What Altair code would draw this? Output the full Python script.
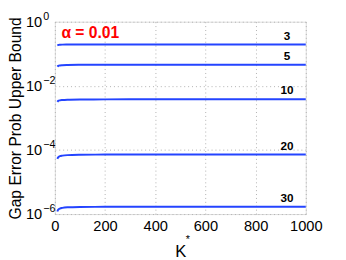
import altair as alt
import pandas as pd

K = [10, 12, 15, 20, 30, 50, 100, 200, 400, 700, 1000]
s3 = [0.182, 0.186, 0.189, 0.191, 0.193, 0.194, 0.195, 0.195, 0.195, 0.195, 0.195]
s5 = [0.0398, 0.0412, 0.0424, 0.0433, 0.0441, 0.0447, 0.0452, 0.0455, 0.0457, 0.0457, 0.0457]
s10 = [0.00316, 0.00331, 0.00344, 0.00353, 0.00361, 0.00369, 0.00375, 0.00378, 0.0038, 0.0038, 0.0038]
s20 = [5.25e-5, 5.69e-5, 6.07e-5, 6.37e-5, 6.64e-5, 6.89e-5, 7.06e-5, 7.16e-5, 7.21e-5, 7.23e-5, 7.24e-5]
s30 = [1.20e-6, 1.32e-6, 1.41e-6, 1.49e-6, 1.56e-6, 1.62e-6, 1.66e-6, 1.68e-6, 1.69e-6, 1.70e-6, 1.70e-6]
series_names = ["3", "5", "10", "20", "30"]
series_vals = [s3, s5, s10, s20, s30]

y_ticks = [1, 1e-2, 1e-4, 1e-6]
y_exps = ["0", "−2", "−4", "−6"]
y_title = "Gap Error Prob Upper Bound"

label_K = 925
alpha_text = "α = 0.01"
alpha_K = 26
alpha_y = 0.43

rows = []
for name, vals in zip(series_names, series_vals):
    for k, v in zip(K, vals):
        rows.append({"K": k, "P": v, "s": name})
df = pd.DataFrame(rows)
lab = pd.DataFrame({"K": [label_K] * 5, "P": [v[-1] for v in series_vals], "s": series_names})
yt = pd.DataFrame({"P": y_ticks, "base": ["10"] * 4, "e": y_exps})

FONT = "Liberation Sans"
BLUE = "#2444ff"

xs = alt.X("K:Q", scale=alt.Scale(domain=[0, 1000], nice=False),
           axis=alt.Axis(values=[0, 200, 400, 600, 800, 1000], title="K", format="d",
                         labelFontSize=15, titleFontSize=17, titleFontWeight="normal",
                         labelPadding=5, titlePadding=10, ticks=False, domain=False,
                         labelFlush=False, labelOverlap=False,
                         grid=True, gridDash=[1, 3], gridColor="#b0b0b0", labelColor="#000",
                         titleColor="#000", labelFont=FONT, titleFont=FONT))
ys = alt.Y("P:Q", scale=alt.Scale(type="log", domain=[1e-6, 1], nice=False),
           axis=alt.Axis(values=y_ticks, labels=False, title=None, ticks=False,
                         domain=False, grid=True, gridDash=[1, 3], gridColor="#b0b0b0"))

lines = alt.Chart(df).mark_line(color=BLUE, strokeWidth=2, interpolate="monotone").encode(
    x=xs, y=ys, detail="s:N")

ybase = alt.Chart(yt).mark_text(font=FONT, fontSize=15, color="#000", align="right",
                                baseline="middle", clip=False).encode(
    x=alt.value(-13), y="P:Q", text="base:N")
yexp = alt.Chart(yt).mark_text(font=FONT, fontSize=11, color="#000", align="left",
                               baseline="middle", dy=-5, clip=False).encode(
    x=alt.value(-12), y="P:Q", text="e:N")

ytitle = alt.Chart(pd.DataFrame({"t": [y_title]})).mark_text(
    font=FONT, fontSize=16, color="#000", angle=270, align="center", baseline="middle",
    clip=False).encode(x=alt.value(-40), y=alt.value(99), text="t:N")

labels = alt.Chart(lab).mark_text(font=FONT, fontSize=12, fontWeight="bold", color="#000",
                                  baseline="bottom", dy=-2).encode(
    x="K:Q", y="P:Q", text="s:N")

alpha = alt.Chart(pd.DataFrame({"K": [alpha_K], "P": [alpha_y], "t": [alpha_text]})).mark_text(
    font=FONT, fontSize=16, fontWeight="bold", color="#ff0000", align="left", baseline="middle").encode(
    x="K:Q", y="P:Q", text="t:N")

star = alt.Chart(pd.DataFrame({"t": ["*"]})).mark_text(
    font=FONT, fontSize=11, color="#000", align="left", baseline="top", clip=False).encode(
    x=alt.value(134), y=alt.value(218), text="t:N")

chart = alt.layer(lines, ybase, yexp, ytitle, labels, alpha, star).properties(
    width=257, height=197,
    autosize=alt.AutoSizeParams(type="none"),
    padding={"left": 48, "top": 11, "right": 33, "bottom": 44},
).configure_view(stroke="#555", strokeWidth=1).configure(background="white")

chart.save("out.html", embed_options={"renderer": "svg", "actions": False})
